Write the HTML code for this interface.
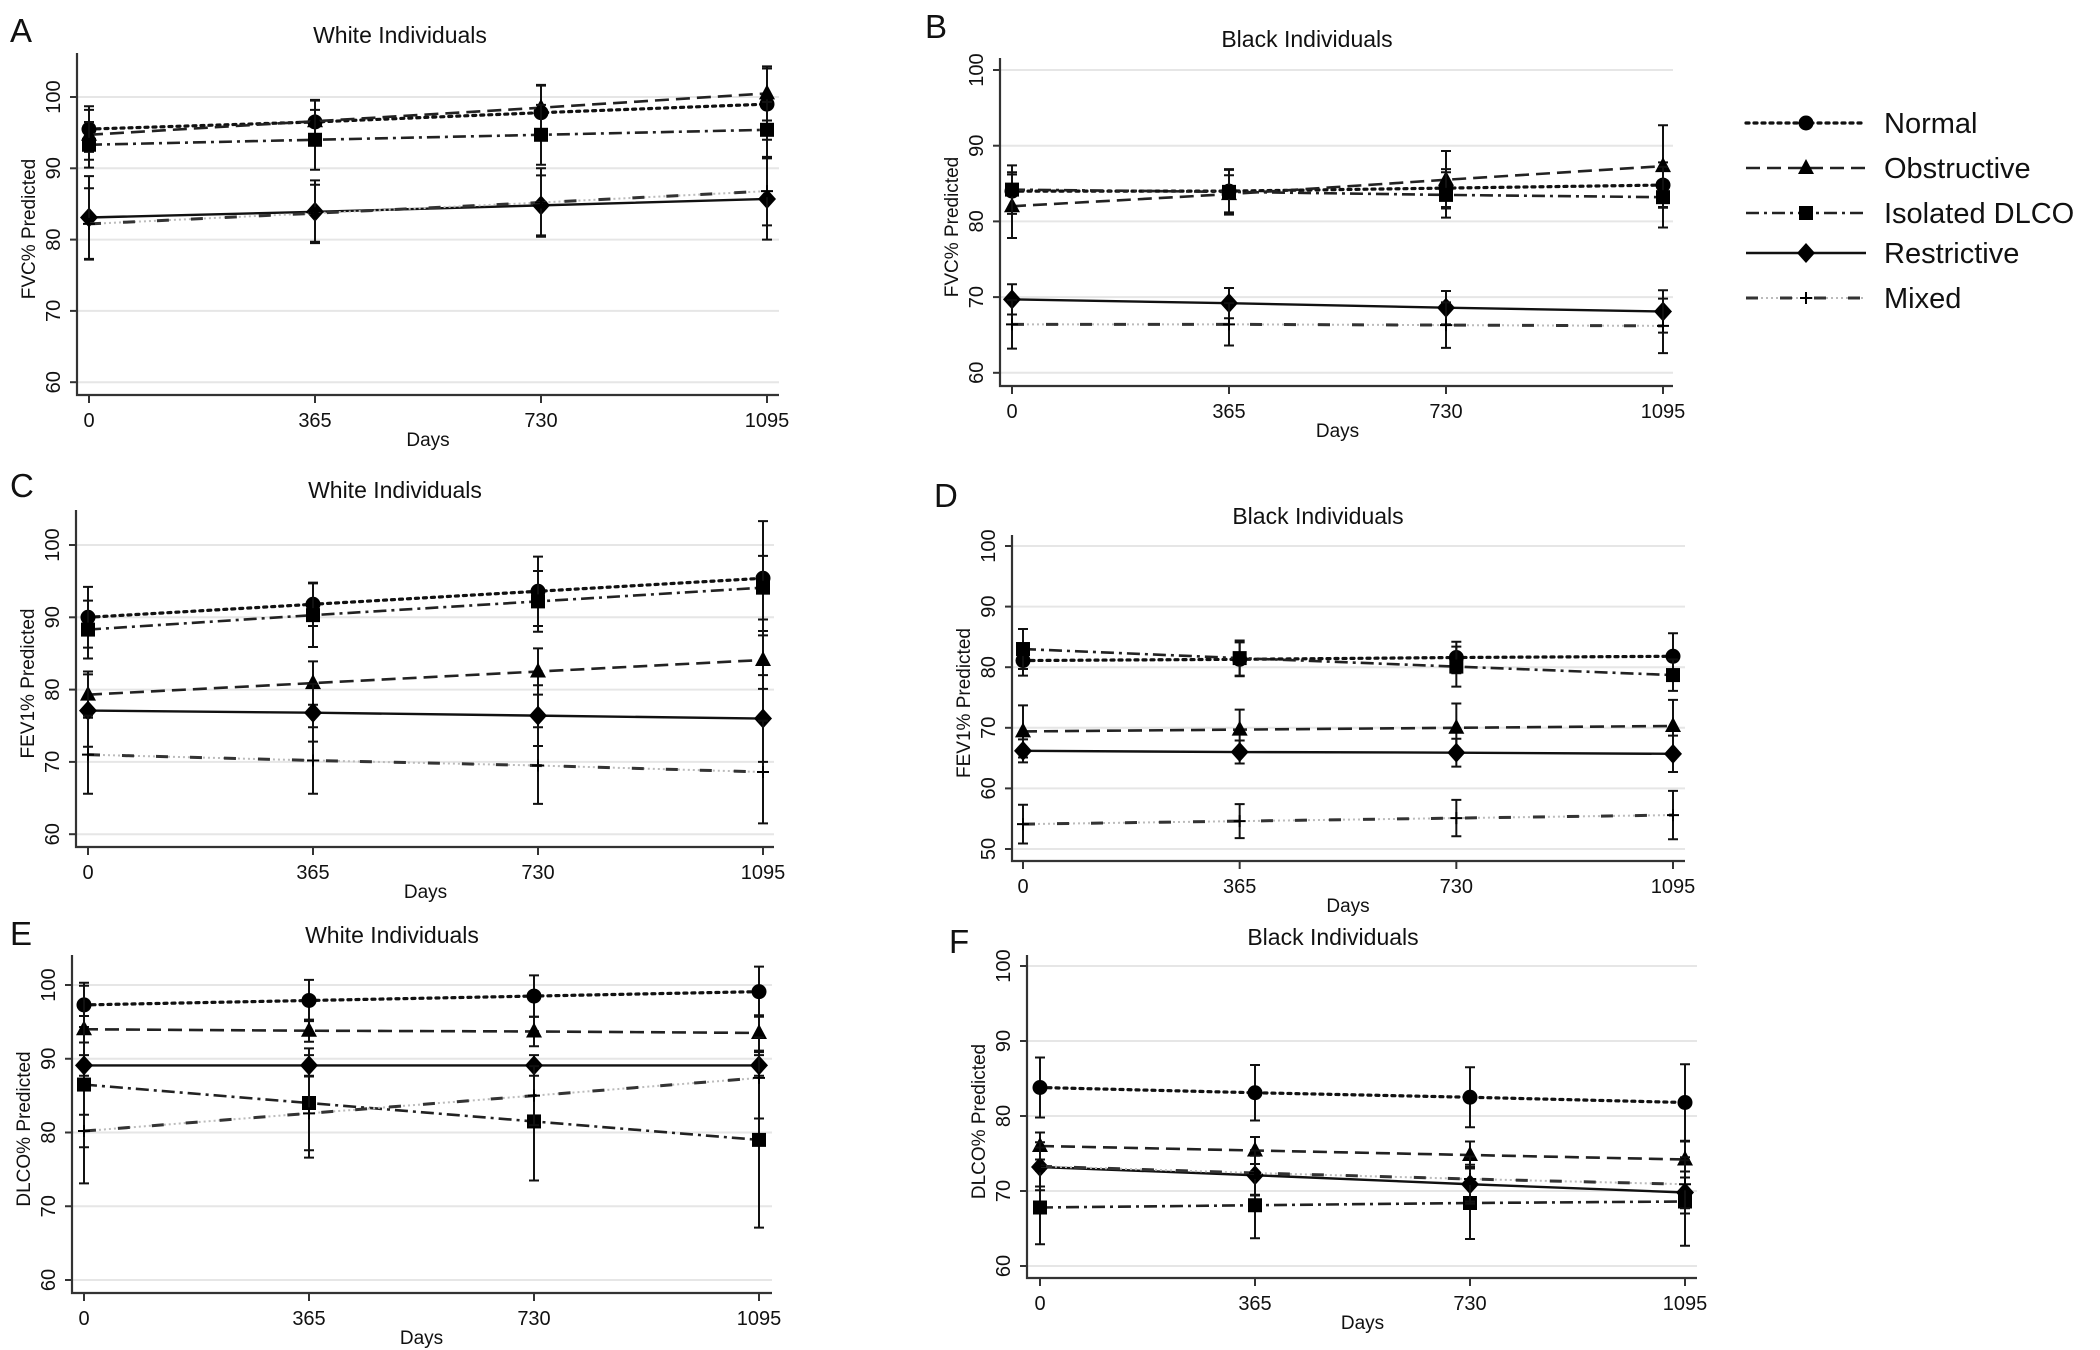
<!DOCTYPE html>
<html><head><meta charset="utf-8"><style>
html,body{margin:0;padding:0;background:#fff;}
svg{display:block;font-family:"Liberation Sans",Arial,sans-serif;}
</style></head><body>
<svg id="fig" width="2100" height="1350" viewBox="0 0 2100 1350" xmlns="http://www.w3.org/2000/svg"></svg>
<script>
// ---- data ----
const days = [0, 365, 730, 1095];
const seriesNames = ["Normal", "Obstructive", "Isolated DLCO", "Restrictive", "Mixed"];
// Panel A: FVC, White
const aNormal = [95.5, 96.5, 97.8, 99.0];
const aObstr = [94.7, 96.6, 98.5, 100.5];
const aIso = [93.3, 94.0, 94.7, 95.4];
const aRestr = [83.1, 83.9, 84.8, 85.7];
const aMixed = [82.2, 83.7, 85.2, 86.8];
const aErr = [[3.2, 3.0, 3.8, 5.0], [3.5, 3.0, 3.2, 3.8], [3.2, 4.2, 4.2, 3.9], [5.8, 4.4, 4.2, 5.7], [5.0, 4.0, 4.8, 4.8]];
// Panel B: FVC, Black
const bNormal = [84.0, 84.0, 84.4, 84.8];
const bObstr = [82.0, 83.6, 85.5, 87.3];
const bIso = [84.2, 83.9, 83.5, 83.2];
const bRestr = [69.7, 69.2, 68.6, 68.1];
const bMixed = [66.4, 66.4, 66.3, 66.2];
const bErr = [[2.5, 2.8, 2.5, 3.0], [4.2, 2.5, 3.8, 5.4], [3.2, 3.0, 3.0, 4.0], [2.0, 2.0, 2.2, 2.8], [3.2, 2.8, 3.0, 3.6]];
// Panel C: FEV1, White
const cNormal = [90.0, 91.8, 93.6, 95.4];
const cObstr = [79.3, 80.9, 82.5, 84.1];
const cIso = [88.3, 90.3, 92.2, 94.1];
const cRestr = [77.1, 76.8, 76.4, 76.0];
const cMixed = [71.0, 70.2, 69.5, 68.6];
const cErr = [[4.2, 3.0, 4.8, 7.9], [3.2, 3.0, 3.2, 4.0], [4.0, 4.4, 4.2, 4.4], [5.0, 4.0, 4.2, 6.0], [5.4, 4.6, 5.3, 7.1]];
// Panel D: FEV1, Black
const dNormal = [81.1, 81.3, 81.6, 81.8];
const dObstr = [69.4, 69.7, 70.0, 70.3];
const dIso = [83.0, 81.5, 80.1, 78.7];
const dRestr = [66.2, 66.0, 65.9, 65.7];
const dMixed = [54.1, 54.6, 55.1, 55.6];
const dErr = [[2.5, 2.8, 2.6, 3.8], [4.3, 3.3, 4.0, 4.3], [3.3, 2.9, 3.3, 2.6], [1.9, 1.9, 2.3, 3.0], [3.2, 2.8, 3.0, 4.0]];
// Panel E: DLCO, White
const eNormal = [97.3, 97.9, 98.5, 99.1];
const eObstr = [94.0, 93.8, 93.7, 93.5];
const eIso = [86.5, 84.0, 81.5, 79.0];
const eRestr = [89.1, 89.1, 89.1, 89.1];
const eMixed = [80.2, 82.6, 85.0, 87.4];
const eErr = [[3.0, 2.8, 2.8, 3.4], [1.8, 1.5, 2.0, 2.4], [13.4, 7.4, 8.0, 11.9], [1.4, 1.4, 1.4, 1.4], [2.2, 5.0, 4.0, 5.5]];
// Panel F: DLCO, Black
const fNormal = [83.8, 83.1, 82.5, 81.8];
const fObstr = [76.0, 75.4, 74.8, 74.2];
const fIso = [67.8, 68.1, 68.4, 68.6];
const fRestr = [73.2, 72.1, 70.9, 69.8];
const fMixed = [73.3, 72.4, 71.6, 70.9];
const fErr = [[4.0, 3.7, 4.0, 5.1], [1.8, 1.8, 1.8, 2.4], [4.9, 4.4, 4.8, 5.9], [2.6, 2.6, 2.6, 2.8], [3.2, 3.0, 3.0, 3.2]];
const yTicksStd = [60, 70, 80, 90, 100];
const yTicksD = [50, 60, 70, 80, 90, 100];

const NS = "http://www.w3.org/2000/svg";
const svg = document.getElementById("fig");
function mk(tag, attrs, parent) {
  const e = document.createElementNS(NS, tag);
  for (const k in attrs) e.setAttribute(k, attrs[k]);
  (parent || svg).appendChild(e);
  return e;
}
const styles = [
  { dash: "3 5", color: "#111", w: 3.2, cap: "round" },
  { dash: "14 7", color: "#222", w: 2.6, cap: "butt" },
  { dash: "13 5 3 5", color: "#222", w: 2.6, cap: "butt" },
  { dash: "", color: "#111", w: 2.4, cap: "butt" },
  { dash: "12 22", color: "#333", w: 3, cap: "butt", under: true }
];
function drawLine(parent, pts, st) {
  if (st.under) {
    mk("polyline", { points: pts, fill: "none", stroke: "#bbb", "stroke-width": 2, "stroke-dasharray": "2 3" }, parent);
  }
  return mk("polyline", { points: pts, fill: "none", stroke: st.color, "stroke-width": st.w, "stroke-dasharray": st.dash, "stroke-linecap": st.cap }, parent);
}
function marker(g, kind, x, y) {
  let m;
  if (kind === 0) m = mk("circle", { cx: x, cy: y, r: 7.5, fill: "#000" }, g);
  else if (kind === 1) m = mk("polygon", { points: `${x},${y - 9} ${x + 8},${y + 6} ${x - 8},${y + 6}`, fill: "#000" }, g);
  else if (kind === 2) m = mk("rect", { x: x - 7, y: y - 7, width: 14, height: 14, fill: "#000" }, g);
  else if (kind === 3) m = mk("polygon", { points: `${x},${y - 10} ${x + 9},${y} ${x},${y + 10} ${x - 9},${y}`, fill: "#000" }, g);
  else { m = mk("path", { d: `M${x - 6},${y}H${x + 6}M${x},${y - 6}V${y + 6}`, stroke: "#000", "stroke-width": 2 }, g); }
  return m;
}

const panels = [
  { id: "a", letter: "A", title: "White Individuals", ytitle: "FVC% Predicted", L: 77, R: 779, T: 53, B: 395, x0: 89, x1: 767, y100: 97, u: 71.3, ticks: yTicksStd, titleX: 400, titleY: 43, lx: 10, ly: 42, data: [aNormal, aObstr, aIso, aRestr, aMixed], err: aErr },
  { id: "b", letter: "B", title: "Black Individuals", ytitle: "FVC% Predicted", L: 1000, R: 1673, T: 58, B: 386, x0: 1012, x1: 1663, y100: 70, u: 75.7, ticks: yTicksStd, titleX: 1307, titleY: 47, lx: 925, ly: 38, data: [bNormal, bObstr, bIso, bRestr, bMixed], err: bErr },
  { id: "c", letter: "C", title: "White Individuals", ytitle: "FEV1% Predicted", L: 76, R: 774, T: 510, B: 847, x0: 88, x1: 763, y100: 545, u: 72.3, ticks: yTicksStd, titleX: 395, titleY: 498, lx: 10, ly: 497, data: [cNormal, cObstr, cIso, cRestr, cMixed], err: cErr },
  { id: "d", letter: "D", title: "Black Individuals", ytitle: "FEV1% Predicted", L: 1012, R: 1685, T: 535, B: 861, x0: 1023, x1: 1673, y100: 546, u: 60.6, ticks: yTicksD, titleX: 1318, titleY: 524, lx: 934, ly: 507, data: [dNormal, dObstr, dIso, dRestr, dMixed], err: dErr },
  { id: "e", letter: "E", title: "White Individuals", ytitle: "DLCO% Predicted", L: 72, R: 772, T: 955, B: 1293, x0: 84, x1: 759, y100: 985, u: 73.75, ticks: yTicksStd, titleX: 392, titleY: 943, lx: 10, ly: 945, data: [eNormal, eObstr, eIso, eRestr, eMixed], err: eErr },
  { id: "f", letter: "F", title: "Black Individuals", ytitle: "DLCO% Predicted", L: 1027, R: 1697, T: 955, B: 1278, x0: 1040, x1: 1685, y100: 966, u: 75, ticks: yTicksStd, titleX: 1333, titleY: 945, lx: 949, ly: 953, data: [fNormal, fObstr, fIso, fRestr, fMixed], err: fErr }
];

panels.forEach(p => {
  const g = mk("g", {});
  
  
  const xs = d => p.x0 + (d / 1095) * (p.x1 - p.x0);
  const ys = v => p.y100 + (100 - v) / 10 * p.u;
  p.ticks.forEach(t => {
    const y = ys(t);
    const gl = mk("line", { x1: p.L, x2: p.R, y1: y, y2: y, stroke: "#e6e6e6", "stroke-width": 2 }, g);
    
    
    mk("line", { x1: p.L - 7, x2: p.L, y1: y, y2: y, stroke: "#333", "stroke-width": 2 }, g);
    const tl = mk("text", { x: p.L - 17, y: y, "font-size": 20, "text-anchor": "middle", transform: `rotate(-90 ${p.L - 17} ${y})`, fill: "#111" }, g);
    tl.textContent = t;
    
    
  });
  const ax = mk("path", { d: `M${p.L},${p.T}V${p.B}H${p.R}`, fill: "none", stroke: "#333", "stroke-width": 2.2 }, g);
  
  
  days.forEach(d => {
    const x = xs(d);
    mk("line", { x1: x, x2: x, y1: p.B, y2: p.B + 8, stroke: "#333", "stroke-width": 2 }, g);
    const xl = mk("text", { x: x, y: p.B + 32, "font-size": 20, "text-anchor": "middle", fill: "#111" }, g);
    xl.textContent = d;
    
    
  });
  const xt = mk("text", { x: (p.x0 + p.x1) / 2, y: p.B + 51, "font-size": 19, "text-anchor": "middle", fill: "#111" }, g);
  xt.textContent = "Days";
  
  
  const yc = (p.T + p.B) / 2 + 5;
  const yt = mk("text", { x: p.L - 42, y: yc, "font-size": 19, "text-anchor": "middle", transform: `rotate(-90 ${p.L - 42} ${yc})`, fill: "#111" }, g);
  yt.textContent = p.ytitle;
  
  
  const tt = mk("text", { x: p.titleX, y: p.titleY, "font-size": 23, "text-anchor": "middle", fill: "#111" }, g);
  tt.textContent = p.title;
  
  
  const lt = mk("text", { x: p.lx, y: p.ly, "font-size": 33, fill: "#111" }, g);
  lt.textContent = p.letter;
  
  
  p.data.forEach((vals, si) => {
    const sg = mk("g", {}, g);
    
    
    vals.forEach((v, i) => {
      const x = xs(days[i]);
      const e = p.err[si][i];
      const eb = mk("path", { d: `M${x},${ys(v + e)}V${ys(v - e)}M${x - 5},${ys(v + e)}H${x + 5}M${x - 5},${ys(v - e)}H${x + 5}`, stroke: "#111", "stroke-width": 2, fill: "none" }, sg);
      
      
    });
    const pts = vals.map((v, i) => `${xs(days[i])},${ys(v)}`).join(" ");
    const ln = drawLine(sg, pts, styles[si]);
    
    
    vals.forEach((v, i) => {
      const m = marker(sg, si, xs(days[i]), ys(v));
      
      
    });
  });
});

const legY = [123, 168, 213, 253, 298];
const lg = mk("g", {});


seriesNames.forEach((n, i) => {
  const eg = mk("g", {}, lg);
  
  
  drawLine(eg, `1746,${legY[i]} 1866,${legY[i]}`, styles[i]);
  marker(eg, i, 1806, legY[i]);
  const t = mk("text", { x: 1884, y: legY[i] + 10, "font-size": 29, fill: "#111" }, eg);
  t.textContent = n;
});
</script>
</body></html>
